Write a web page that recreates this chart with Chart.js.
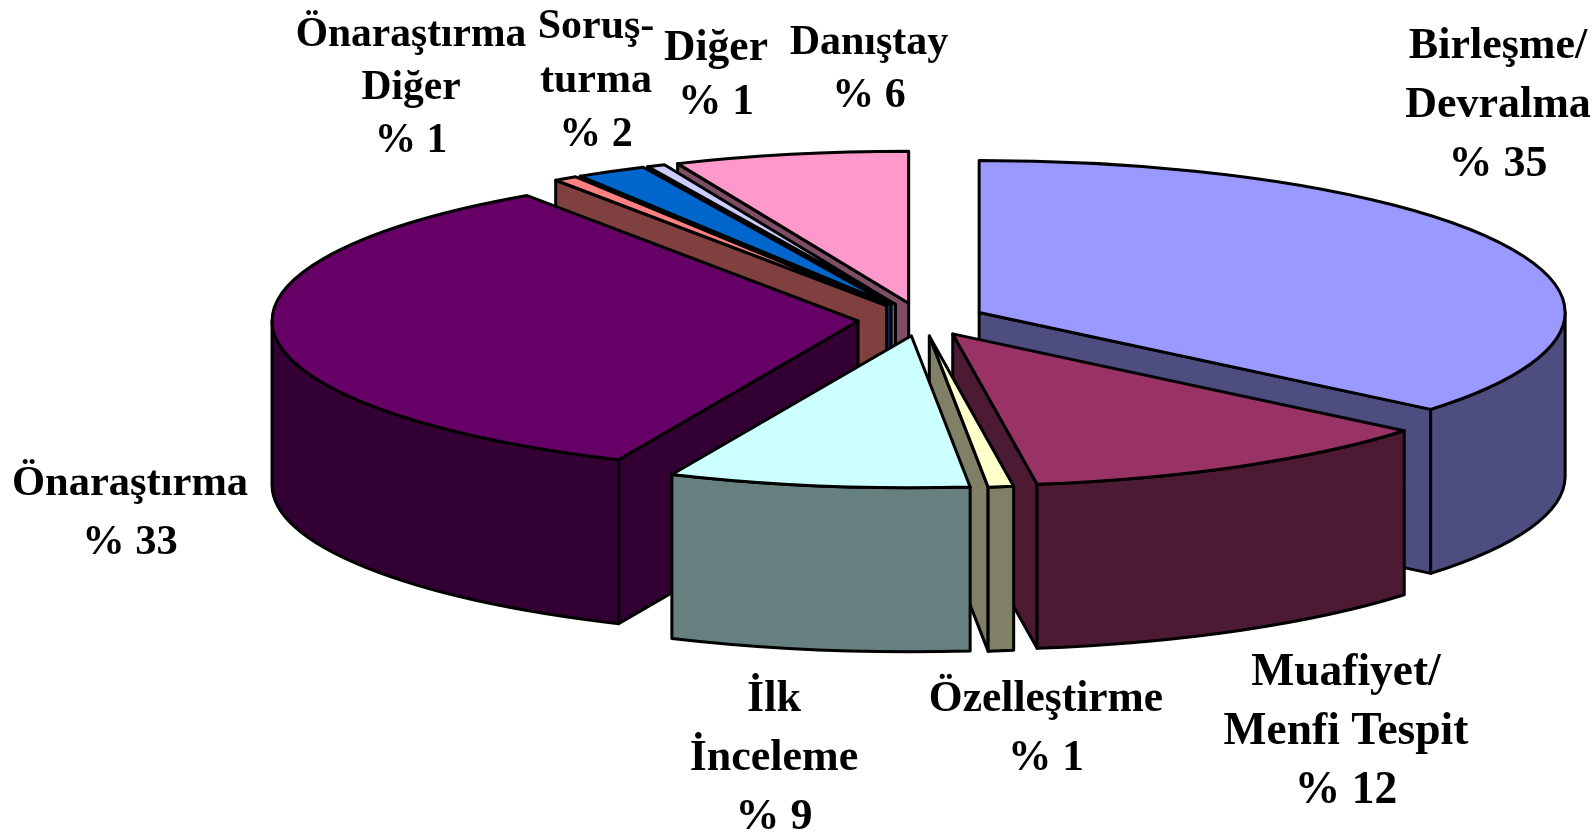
<!DOCTYPE html>
<html>
<head>
<meta charset="utf-8">
<title>Pie</title>
<script src="https://cdn.jsdelivr.net/npm/chart.js@4"></script>
<style>
  body { margin: 0; background: #fff; }
  canvas { display: block; }
</style>
</head>
<body>
<canvas id="myChart" width="1593" height="836"></canvas>
<script>
const categories = ["Birleşme/Devralma", "Muafiyet/Menfi Tespit", "Özelleştirme", "İlk İnceleme", "Önaraştırma", "Önaraştırma Diğer", "Soruşturma", "Diğer", "Danıştay"];
// slice sizes as measured on the picture, the printed figures are rounded
const shares = [36, 11.7, 0.7, 8.3, 33.75, 0.65, 1.95, 0.5, 6.45];
const printedShares = [35, 12, 1, 9, 33, 1, 2, 1, 6];
const topColors = ["#9999FF", "#993366", "#FFFFCC", "#CCFFFF", "#660066", "#FF8080", "#0066CC", "#CCCCFF", "#FF99CC"];
const sideColors = ["#4D4D80", "#4D1A33", "#808066", "#668080", "#330033", "#804040", "#003366", "#666680", "#804D66"];

// painter's order, back of the pie first
const drawOrder = [8, 7, 6, 5, 0, 4, 1, 2, 3];

// how the slice names break on the picture
const labelLines = [
  ["Birleşme/", "Devralma"],
  ["Muafiyet/", "Menfi Tespit"],
  ["Özelleştirme"],
  ["İlk", "İnceleme"],
  ["Önaraştırma"],
  ["Önaraştırma", "Diğer"],
  ["Soruş-", "turma"],
  ["Diğer"],
  ["Danıştay"]
];
const labelX = [1498, 1346, 1046, 774, 130, 411, 596, 716, 869];
const labelY = [58, 685, 711, 711, 495, 46, 38, 60, 54];
const labelGap = [59, 59, 59, 59, 59, 53, 54, 54, 53];
const labelSize = [44, 45.5, 43.5, 44, 42.5, 41.5, 42, 43.5, 42];

// flattened pie: centre, radii and height on the page
const pie = { x: 921.5, y: 319.5, rx: 586, ry: 152, depth: 164 };

function placeArc(arc) {
  const sx = pie.rx / arc.outerRadius, sy = pie.ry / arc.outerRadius;
  const mid = (arc.startAngle + arc.endAngle) / 2;
  return {
    x: pie.x + Math.cos(mid) * arc.options.offset * sx,
    y: pie.y + Math.sin(mid) * arc.options.offset * sy,
    s: arc.startAngle,
    e: arc.endAngle
  };
}

function edgePoint(p, a) {
  return [p.x + Math.cos(a) * pie.rx, p.y + Math.sin(a) * pie.ry];
}

function wall(ctx, p, a, color) {
  const q = edgePoint(p, a);
  ctx.beginPath();
  ctx.moveTo(p.x, p.y);
  ctx.lineTo(q[0], q[1]);
  ctx.lineTo(q[0], q[1] + pie.depth);
  ctx.lineTo(p.x, p.y + pie.depth);
  ctx.closePath();
  ctx.fillStyle = color;
  ctx.fill();
  ctx.stroke();
}

function drawSlice(ctx, p, top, side) {
  // back walls never show, only the ones facing the viewer
  if (Math.cos(p.s) < 0) wall(ctx, p, p.s, side);
  if (Math.cos(p.e) > 0) wall(ctx, p, p.e, side);

  const lo = Math.max(p.s, 0), hi = Math.min(p.e, Math.PI);
  if (hi > lo) {
    ctx.beginPath();
    ctx.ellipse(p.x, p.y, pie.rx, pie.ry, 0, lo, hi);
    ctx.ellipse(p.x, p.y + pie.depth, pie.rx, pie.ry, 0, hi, lo, true);
    ctx.closePath();
    ctx.fillStyle = side;
    ctx.fill();
    ctx.stroke();
  }

  ctx.beginPath();
  ctx.moveTo(p.x, p.y);
  ctx.ellipse(p.x, p.y, pie.rx, pie.ry, 0, p.s, p.e);
  ctx.closePath();
  ctx.fillStyle = top;
  ctx.fill();
  ctx.stroke();
}

const pie3d = {
  id: "pie3d",
  beforeDatasetsDraw(chart) {
    const ctx = chart.ctx;
    const arcs = chart.getDatasetMeta(0).data;
    ctx.save();
    ctx.lineWidth = 3;
    ctx.lineJoin = "round";
    ctx.strokeStyle = "#000";
    drawOrder.forEach(i => drawSlice(ctx, placeArc(arcs[i]), topColors[i], sideColors[i]));
    ctx.restore();
    return false;
  },
  afterDraw(chart) {
    const ctx = chart.ctx;
    ctx.save();
    ctx.fillStyle = "#000";
    ctx.textAlign = "center";
    labelLines.forEach((lines, i) => {
      ctx.font = "bold " + labelSize[i] + "px 'Liberation Serif'";
      lines.concat("% " + printedShares[i]).forEach((text, n) => {
        ctx.fillText(text, labelX[i], labelY[i] + n * labelGap[i]);
      });
    });
    ctx.restore();
  }
};

new Chart("myChart", {
  type: "pie",
  data: {
    labels: categories,
    datasets: [{
      data: shares,
      backgroundColor: topColors,
      borderColor: "#000",
      borderWidth: 2,
      offset: 43
    }]
  },
  options: {
    responsive: false,
    animation: false,
    plugins: {
      legend: { display: false },
      tooltip: { enabled: false }
    }
  },
  plugins: [pie3d]
});
</script>
</body>
</html>
